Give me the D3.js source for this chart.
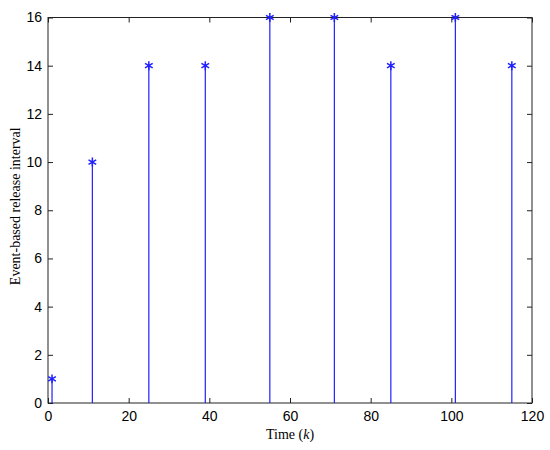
<!DOCTYPE html>
<html>
<head>
<meta charset="utf-8">
<script src="https://cdn.jsdelivr.net/npm/d3@7"></script>
<style>
  body { margin: 0; background: #fff; }
  .tick text { font-family: "Liberation Sans", Arial, sans-serif; font-size: 14px; fill: #000; }
  .axis-label { font-family: "Liberation Serif", "Times New Roman", serif; font-size: 14px; fill: #000; }
</style>
</head>
<body>
<svg id="chart" width="550" height="450"></svg>
<script>
// event times and their release intervals
const times = [1, 11, 25, 39, 55, 71, 85, 101, 115];
const intervals = [1, 10, 14, 14, 16, 16, 14, 16, 14];
const xTicks = [0, 20, 40, 60, 80, 100, 120];
const yTicks = [0, 2, 4, 6, 8, 10, 12, 14, 16];

const margin = {top: 17.5, right: 18, bottom: 47, left: 48};
const width = 550 - margin.left - margin.right;
const height = 450 - margin.top - margin.bottom;

const svg = d3.select('#chart');
const chart = svg.append('g')
    .attr('transform', `translate(${margin.left},${margin.top})`);

const xScale = d3.scaleLinear().domain([0, 120]).range([0, width]);
const yScale = d3.scaleLinear().domain([0, 16]).range([height, 0]);

// box
chart.append('rect')
    .attr('width', width).attr('height', height)
    .attr('fill', 'none').attr('stroke', '#222').attr('stroke-width', 1);

// axes with inward ticks
const tickLen = 5;
chart.append('g')
    .attr('transform', `translate(0,${height})`)
    .call(d3.axisBottom(xScale).tickValues(xTicks).tickSizeInner(-tickLen).tickSizeOuter(0).tickPadding(8));
chart.append('g')
    .call(d3.axisLeft(yScale).tickValues(yTicks).tickSizeInner(-tickLen).tickSizeOuter(0).tickPadding(6));
chart.append('g')
    .call(d3.axisTop(xScale).tickValues(xTicks).tickSizeInner(-tickLen).tickSizeOuter(0).tickFormat(''));
chart.append('g')
    .attr('transform', `translate(${width},0)`)
    .call(d3.axisRight(yScale).tickValues(yTicks).tickSizeInner(-tickLen).tickSizeOuter(0).tickFormat(''));

chart.selectAll('.domain').remove();
chart.selectAll('.tick line').attr('stroke', '#222');

// stems
const points = times.map((t, i) => ({t: t, v: intervals[i]}));
chart.selectAll('.stem')
    .data(points)
    .enter().append('line')
    .attr('class', 'stem')
    .attr('x1', d => xScale(d.t)).attr('x2', d => xScale(d.t))
    .attr('y1', yScale(0)).attr('y2', d => yScale(d.v))
    .attr('stroke', '#2020ff').attr('stroke-width', 1.2);

// asterisk markers
const star = d3.symbol().type(d3.symbolAsterisk).size(55);
chart.selectAll('.marker')
    .data(points)
    .enter().append('path')
    .attr('class', 'marker')
    .attr('d', star)
    .attr('transform', d => `translate(${xScale(d.t)},${yScale(d.v)})`)
    .attr('fill', 'none').attr('stroke', '#2020ff').attr('stroke-width', 1.5);

// labels
const xLabel = chart.append('text')
    .attr('class', 'axis-label')
    .attr('x', width / 2).attr('y', height + 36)
    .attr('text-anchor', 'middle');
xLabel.append('tspan').text('Time (');
xLabel.append('tspan').attr('font-style', 'italic').text('k');
xLabel.append('tspan').text(')');

chart.append('text')
    .attr('class', 'axis-label')
    .attr('transform', `translate(-28,${height / 2 - 4}) rotate(-90)`)
    .attr('text-anchor', 'middle')
    .text('Event-based release interval');
</script>
</body>
</html>
